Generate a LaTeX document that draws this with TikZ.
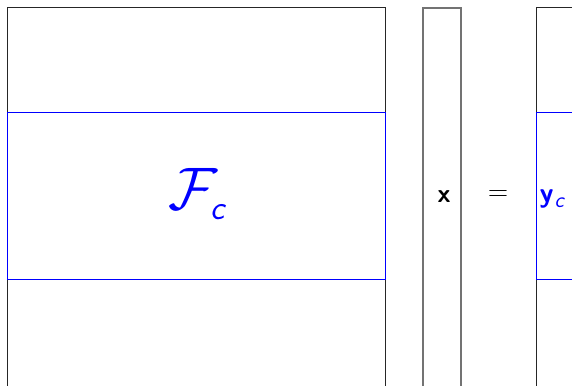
\RequirePackage{fix-cm}
\documentclass[tikz,border=0pt]{standalone}
\usepackage{fontspec}
\renewcommand{\familydefault}{\sfdefault}
\begin{document}
\begin{tikzpicture}[x=1pt,y=1pt,
  mat/.style={draw=black!85,line width=1pt},
  vec/.style={draw=black!55,line width=1.2pt},
  band/.style={draw=blue,line width=1pt},
  lbl/.style={font=\sffamily\fontsize{26}{30}\selectfont,inner sep=0pt}]
\useasboundingbox (0,0) rectangle (572,385);
\clip (0,0) rectangle (572,385);
% big matrix
\draw[mat] (7,-20) -- (7,377) -- (385,377) -- (385,-20);
\draw[band] (7,105) rectangle (385,272);
\node[lbl,text=blue,anchor=base west] (F) at (168,175) {\fontsize{60}{64}\selectfont$\mathcal{F}$\kern-7pt\raisebox{-10pt}{\fontsize{34}{40}\selectfont\slshape c}};
% vector x
\draw[vec] (423,-20) -- (423,377) -- (461,377) -- (461,-20);
\node[lbl,anchor=base west] (x) at (437.5,182) {\bfseries x};
\node[lbl] (eq) at (498,189) {\fontsize{28}{32}\selectfont=};
% result
\draw[mat] (536,-20) -- (536,377) -- (700,377);
\draw[band] (536,105) rectangle (700,272);
\node[lbl,text=blue,anchor=base west] (y) at (539.5,182) {\fontsize{28}{32}\selectfont\bfseries y\kern1pt\raisebox{-5pt}{\mdseries\fontsize{22}{26}\selectfont\slshape c}};
\end{tikzpicture}
\end{document}
